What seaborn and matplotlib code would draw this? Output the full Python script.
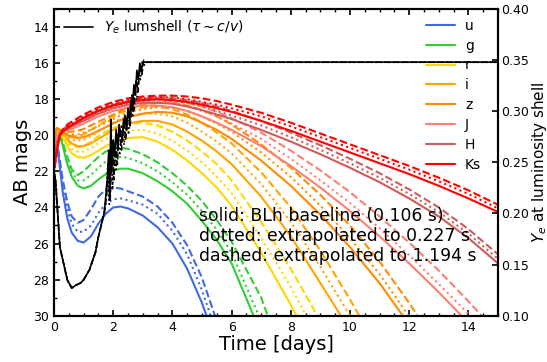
import numpy as np
import pandas as pd
import matplotlib
matplotlib.use("Agg")
import matplotlib.pyplot as plt
import seaborn as sns

# ---------------- data ----------------
days = [0.02, 0.1, 0.2, 0.3, 0.45, 0.6, 0.8, 1.0, 1.25, 1.5, 1.75, 2.0, 2.25, 2.5, 3.0,
        3.5, 4.0, 4.5, 5.0, 5.5, 6.0, 7.0, 8.0, 9.0, 10.0, 11.0, 12.0, 13.0, 14.0, 15.0]

bands = ["u", "g", "r", "i", "z", "J", "H", "Ks"]
band_colors = ["royalblue", "limegreen", "gold", "orange", "darkorange", "salmon", "indianred", "red"]

u_solid = [20.6, 20.4, 21.8, 23.2, 24.6, 25.4, 25.85, 25.95, 25.6, 24.9, 24.35, 24.0, 23.95, 24.05, 24.45,
           25.1, 26.0, 27.4, 29.3, 31.6, 34.0, 40, 40, 40, 40, 40, 40, 40, 40, 40]
u_dotted = [20.6, 20.4, 21.6, 22.8, 24.1, 24.9, 25.35, 25.35, 25.0, 24.3, 23.8, 23.55, 23.5, 23.6, 23.85,
            24.35, 25.3, 26.6, 28.6, 31.0, 33.5, 40, 40, 40, 40, 40, 40, 40, 40, 40]
u_dashed = [20.6, 20.4, 21.4, 22.5, 23.7, 24.5, 24.85, 24.7, 24.1, 23.4, 23.0, 22.9, 22.95, 23.1, 23.4,
            23.95, 24.85, 26.1, 27.9, 30.3, 32.8, 40, 40, 40, 40, 40, 40, 40, 40, 40]

g_solid = [20.5, 20.0, 20.0, 20.6, 21.6, 22.3, 22.8, 22.95, 22.8, 22.45, 22.15, 21.95, 21.85, 21.85, 22.1,
           22.55, 23.1, 23.8, 24.75, 25.8, 27.1, 31.0, 35.0, 40, 40, 40, 40, 40, 40, 40]
g_dotted = [20.5, 20.0, 20.0, 20.5, 21.4, 22.05, 22.5, 22.5, 22.2, 21.8, 21.45, 21.25, 21.2, 21.25, 21.55,
            22.0, 22.6, 23.3, 24.2, 25.25, 26.5, 30.3, 34.5, 40, 40, 40, 40, 40, 40, 40]
g_dashed = [20.5, 20.0, 20.0, 20.4, 21.2, 21.9, 22.2, 22.0, 21.6, 21.2, 20.9, 20.75, 20.7, 20.75, 21.05,
            21.5, 22.1, 22.8, 23.65, 24.7, 25.9, 29.0, 33.5, 40, 40, 40, 40, 40, 40, 40]

r_solid = [20.2, 19.7, 19.8, 20.1, 20.6, 21.0, 21.2, 21.25, 21.1, 20.85, 20.6, 20.4, 20.25, 20.15, 20.1,
           20.35, 20.8, 21.4, 22.1, 22.9, 23.9, 26.5, 29.4, 32.5, 40, 40, 40, 40, 40, 40]
r_dotted = [20.2, 19.7, 19.8, 20.05, 20.45, 20.75, 20.9, 20.9, 20.7, 20.45, 20.2, 20.0, 19.85, 19.75, 19.7,
            19.9, 20.3, 20.85, 21.5, 22.3, 23.2, 25.7, 28.4, 31.5, 40, 40, 40, 40, 40, 40]
r_dashed = [20.2, 19.7, 19.8, 20.0, 20.3, 20.55, 20.65, 20.6, 20.35, 20.05, 19.8, 19.6, 19.45, 19.35, 19.3,
            19.45, 19.8, 20.3, 20.9, 21.6, 22.5, 24.8, 27.4, 30.3, 40, 40, 40, 40, 40, 40]

i_solid = [20.0, 19.6, 19.7, 19.9, 20.2, 20.45, 20.6, 20.6, 20.45, 20.2, 19.95, 19.7, 19.5, 19.35, 19.2,
           19.2, 19.4, 19.8, 20.3, 20.9, 21.6, 23.4, 25.6, 28.2, 30.8, 34.0, 40, 40, 40, 40]
i_dotted = [20.0, 19.6, 19.7, 19.85, 20.05, 20.25, 20.3, 20.25, 20.05, 19.8, 19.55, 19.3, 19.1, 18.95, 18.8,
            18.8, 18.95, 19.3, 19.8, 20.35, 21.0, 22.7, 24.8, 27.3, 30.0, 33.0, 40, 40, 40, 40]
i_dashed = [20.0, 19.6, 19.7, 19.8, 19.95, 20.05, 20.05, 19.95, 19.7, 19.45, 19.2, 18.95, 18.75, 18.6, 18.45,
            18.4, 18.55, 18.85, 19.3, 19.85, 20.45, 22.05, 24.0, 26.4, 29.1, 32.0, 40, 40, 40, 40]

z_solid = [20.2, 19.6, 19.7, 19.8, 20.0, 20.1, 20.15, 20.1, 19.95, 19.75, 19.55, 19.35, 19.15, 19.0, 18.8,
           18.7, 18.75, 18.95, 19.3, 19.7, 20.2, 21.4, 22.8, 24.4, 26.2, 28.2, 30.5, 33.0, 40, 40]
z_dotted = [20.2, 19.6, 19.7, 19.75, 19.9, 19.95, 19.95, 19.85, 19.7, 19.5, 19.3, 19.1, 18.9, 18.75, 18.55,
            18.45, 18.45, 18.65, 18.95, 19.35, 19.8, 20.95, 22.3, 23.9, 25.7, 27.7, 30.05, 32.5, 40, 40]
z_dashed = [20.2, 19.6, 19.7, 19.7, 19.8, 19.8, 19.75, 19.65, 19.45, 19.25, 19.05, 18.85, 18.65, 18.5, 18.3,
            18.2, 18.2, 18.35, 18.6, 18.95, 19.4, 20.5, 21.8, 23.3, 25.0, 27.0, 29.3, 31.8, 40, 40]

J_solid = [20.8, 20.1, 19.8, 19.75, 19.7, 19.65, 19.5, 19.35, 19.15, 18.95, 18.8, 18.65, 18.55, 18.45, 18.35,
           18.35, 18.45, 18.65, 18.95, 19.3, 19.7, 20.6, 21.7, 22.9, 24.2, 25.6, 27.1, 28.7, 30.4, 32.2]
J_dotted = [20.8, 20.1, 19.8, 19.7, 19.6, 19.5, 19.35, 19.2, 19.0, 18.8, 18.65, 18.5, 18.4, 18.3, 18.2,
            18.15, 18.2, 18.4, 18.65, 18.95, 19.35, 20.2, 21.3, 22.5, 23.75, 25.15, 26.65, 28.25, 29.9, 31.7]
J_dashed = [20.8, 20.1, 19.8, 19.65, 19.5, 19.4, 19.25, 19.05, 18.85, 18.65, 18.5, 18.35, 18.25, 18.15, 18.05,
            18.0, 18.05, 18.2, 18.4, 18.7, 19.05, 19.85, 20.85, 21.95, 23.15, 24.5, 25.95, 27.5, 29.2, 31.0]

H_solid = [21.3, 20.4, 19.9, 19.75, 19.65, 19.5, 19.35, 19.2, 19.0, 18.8, 18.65, 18.5, 18.4, 18.3, 18.2,
           18.2, 18.25, 18.4, 18.6, 18.85, 19.1, 19.7, 20.35, 21.05, 21.8, 22.6, 23.5, 24.5, 25.7, 27.1]
H_dotted = [21.3, 20.4, 19.9, 19.7, 19.6, 19.45, 19.3, 19.1, 18.9, 18.7, 18.55, 18.4, 18.3, 18.2, 18.1,
            18.05, 18.1, 18.2, 18.4, 18.65, 18.9, 19.45, 20.1, 20.8, 21.55, 22.35, 23.25, 24.25, 25.45, 26.85]
H_dashed = [21.3, 20.4, 19.9, 19.65, 19.5, 19.4, 19.2, 19.0, 18.8, 18.6, 18.45, 18.3, 18.2, 18.1, 17.95,
            17.9, 17.95, 18.05, 18.2, 18.4, 18.65, 19.2, 19.85, 20.55, 21.3, 22.1, 23.0, 24.0, 25.2, 26.6]

Ks_solid = [21.8, 20.8, 20.0, 19.8, 19.6, 19.45, 19.25, 19.05, 18.85, 18.65, 18.5, 18.35, 18.25, 18.15, 18.05,
            18.0, 18.05, 18.15, 18.3, 18.5, 18.7, 19.2, 19.75, 20.35, 20.95, 21.55, 22.15, 22.8, 23.5, 24.25]
Ks_dotted = [21.8, 20.8, 20.0, 19.75, 19.5, 19.35, 19.15, 18.95, 18.75, 18.55, 18.4, 18.25, 18.15, 18.05, 17.95,
             17.9, 17.9, 18.0, 18.15, 18.3, 18.5, 18.95, 19.5, 20.1, 20.7, 21.3, 21.9, 22.55, 23.25, 24.05]
Ks_dashed = [21.8, 20.8, 20.0, 19.7, 19.4, 19.25, 19.05, 18.85, 18.65, 18.45, 18.3, 18.15, 18.05, 17.95, 17.85,
             17.8, 17.8, 17.85, 17.95, 18.1, 18.3, 18.75, 19.3, 19.9, 20.5, 21.1, 21.7, 22.35, 23.05, 23.85]

# Ye at the luminosity shell (right axis)
ye_t_solid = [0.0, 0.05, 0.2, 0.45, 0.6, 0.75, 0.9, 1.0, 1.2, 1.4, 1.5, 1.7, 1.8, 1.85, 1.88, 1.92, 1.95,
              2.0, 2.05, 2.1, 2.15, 2.2, 2.3, 2.4, 2.45, 2.5, 2.55, 2.6, 2.65, 2.7, 2.75, 2.8, 2.85, 2.9,
              2.95, 3.0, 15.0]
ye_solid = [0.241, 0.233, 0.167, 0.135, 0.127, 0.130, 0.132, 0.135, 0.145, 0.162, 0.177, 0.201, 0.233,
            0.262, 0.213, 0.292, 0.243, 0.272, 0.257, 0.282, 0.262, 0.287, 0.272, 0.296, 0.282, 0.303,
            0.292, 0.311, 0.301, 0.326, 0.316, 0.340, 0.331, 0.347, 0.340, 0.348, 0.348]
ye_t_dotted = [0.0, 0.05, 0.2, 0.45, 0.6, 0.75, 0.9, 1.0, 1.2, 1.4, 1.5, 1.7, 1.75, 1.82, 1.87, 1.93, 1.98,
               2.03, 2.1, 2.15, 2.22, 2.3, 2.37, 2.45, 2.52, 2.6, 2.66, 2.72, 2.8, 2.86, 2.92, 2.98, 3.05,
               3.1, 15.0]
ye_dotted = [0.241, 0.233, 0.167, 0.135, 0.127, 0.130, 0.132, 0.135, 0.145, 0.162, 0.177, 0.201, 0.213,
             0.248, 0.209, 0.262, 0.223, 0.267, 0.243, 0.277, 0.257, 0.287, 0.267, 0.294, 0.277, 0.303,
             0.294, 0.321, 0.311, 0.338, 0.331, 0.348, 0.345, 0.348, 0.348]
ye_t_dashed = [0.0, 0.05, 0.2, 0.45, 0.6, 0.75, 0.9, 1.0, 1.2, 1.4, 1.5, 1.7, 1.78, 1.85, 1.9, 1.97, 2.02,
               2.08, 2.14, 2.2, 2.28, 2.35, 2.42, 2.5, 2.57, 2.64, 2.7, 2.78, 2.84, 2.9, 2.97, 3.03, 3.1,
               3.15, 15.0]
ye_dashed = [0.241, 0.233, 0.167, 0.135, 0.127, 0.130, 0.132, 0.135, 0.145, 0.162, 0.177, 0.201, 0.218,
             0.252, 0.215, 0.272, 0.233, 0.262, 0.248, 0.284, 0.262, 0.292, 0.272, 0.299, 0.284, 0.316,
             0.301, 0.331, 0.319, 0.344, 0.336, 0.350, 0.348, 0.348, 0.348]

curves = {
    "u": (u_solid, u_dotted, u_dashed),
    "g": (g_solid, g_dotted, g_dashed),
    "r": (r_solid, r_dotted, r_dashed),
    "i": (i_solid, i_dotted, i_dashed),
    "z": (z_solid, z_dotted, z_dashed),
    "J": (J_solid, J_dotted, J_dashed),
    "H": (H_solid, H_dotted, H_dashed),
    "Ks": (Ks_solid, Ks_dotted, Ks_dashed),
}

# ---------------- plot ----------------
sns.set_theme(style="ticks")
plt.rcParams["font.family"] = ["DejaVu Sans"]
plt.rcParams.update({"text.color": "black", "axes.labelcolor": "black",
                     "xtick.color": "black", "ytick.color": "black"})

fig = plt.figure(figsize=(5.47, 3.62), dpi=100)
ax = fig.add_axes([0.0987, 0.128, 0.8117, 0.847])

lw = 1.5
styles = ["-", ":", "--"]
for band, col in zip(bands, band_colors):
    for k, (vals, ls) in enumerate(zip(curves[band], styles)):
        df = pd.DataFrame({"t": days, "m": vals})
        sns.lineplot(data=df, x="t", y="m", ax=ax, color=col, linestyle=ls, lw=lw,
                     estimator=None, sort=False, label=band if k == 0 else None, legend=False)

ax.set_xlim(0, 15)
ax.set_ylim(30, 13)
ax.set_xlabel("Time [days]", fontsize=14, labelpad=1)
ax.set_ylabel("AB mags", fontsize=14, labelpad=1)
ax.set_xticks(np.arange(0, 15, 2))
ax.set_xticks(np.arange(0, 15.01, 0.5), minor=True)
ax.set_yticks(np.arange(14, 31, 2))
ax.set_yticks(np.arange(13, 31, 1), minor=True)
ax.tick_params(axis="both", which="major", direction="in", length=4, width=1.2, labelsize=9,
               top=True, right=False)
ax.tick_params(axis="both", which="minor", direction="in", length=2, width=1.0, top=True, right=False)
for sp in ax.spines.values():
    sp.set_linewidth(1.5)
    sp.set_color("black")

leg = ax.legend(loc="upper right", bbox_to_anchor=(0.984, 1.0), frameon=False, fontsize=10,
                handlelength=2.1, labelspacing=0.42, handletextpad=0.7, borderaxespad=0.3)

ax.text(4.9, 25.6, "solid: BLh baseline (0.106 s)\ndotted: extrapolated to 0.227 s\n"
        "dashed: extrapolated to 1.194 s", fontsize=12.4, va="center", ha="left",
        linespacing=1.15, color="black")

ax2 = ax.twinx()
for tt, yy, ls in [(ye_t_solid, ye_solid, "-"), (ye_t_dotted, ye_dotted, ":"), (ye_t_dashed, ye_dashed, "--")]:
    df = pd.DataFrame({"t": tt, "ye": yy})
    sns.lineplot(data=df, x="t", y="ye", ax=ax2, color="black", linestyle=ls, lw=1.2,
                 estimator=None, sort=False,
                 label=r"$Y_e$ lumshell ($\tau \sim c/v$)" if ls == "-" else None, legend=False)
ax2.set_ylim(0.10, 0.40)
ax2.set_xlim(0, 15)
ax2.set_yticks(np.arange(0.10, 0.401, 0.05))
ax2.set_yticklabels([f"{v:.2f}" for v in np.arange(0.10, 0.401, 0.05)])
ax2.set_ylabel(r"$Y_e$ at luminosity shell", fontsize=11)
ax2.yaxis.set_label_coords(1.071, 0.5)
ax2.set_xlabel("")
ax2.tick_params(axis="y", which="major", direction="in", length=4, width=1.2, labelsize=9, pad=2)
for sp in ax2.spines.values():
    sp.set_linewidth(1.5)
    sp.set_color("black")
ax2.legend(loc="upper left", frameon=False, fontsize=10, handlelength=2.1, borderaxespad=0.3)

fig.savefig("out.png", dpi=100)
